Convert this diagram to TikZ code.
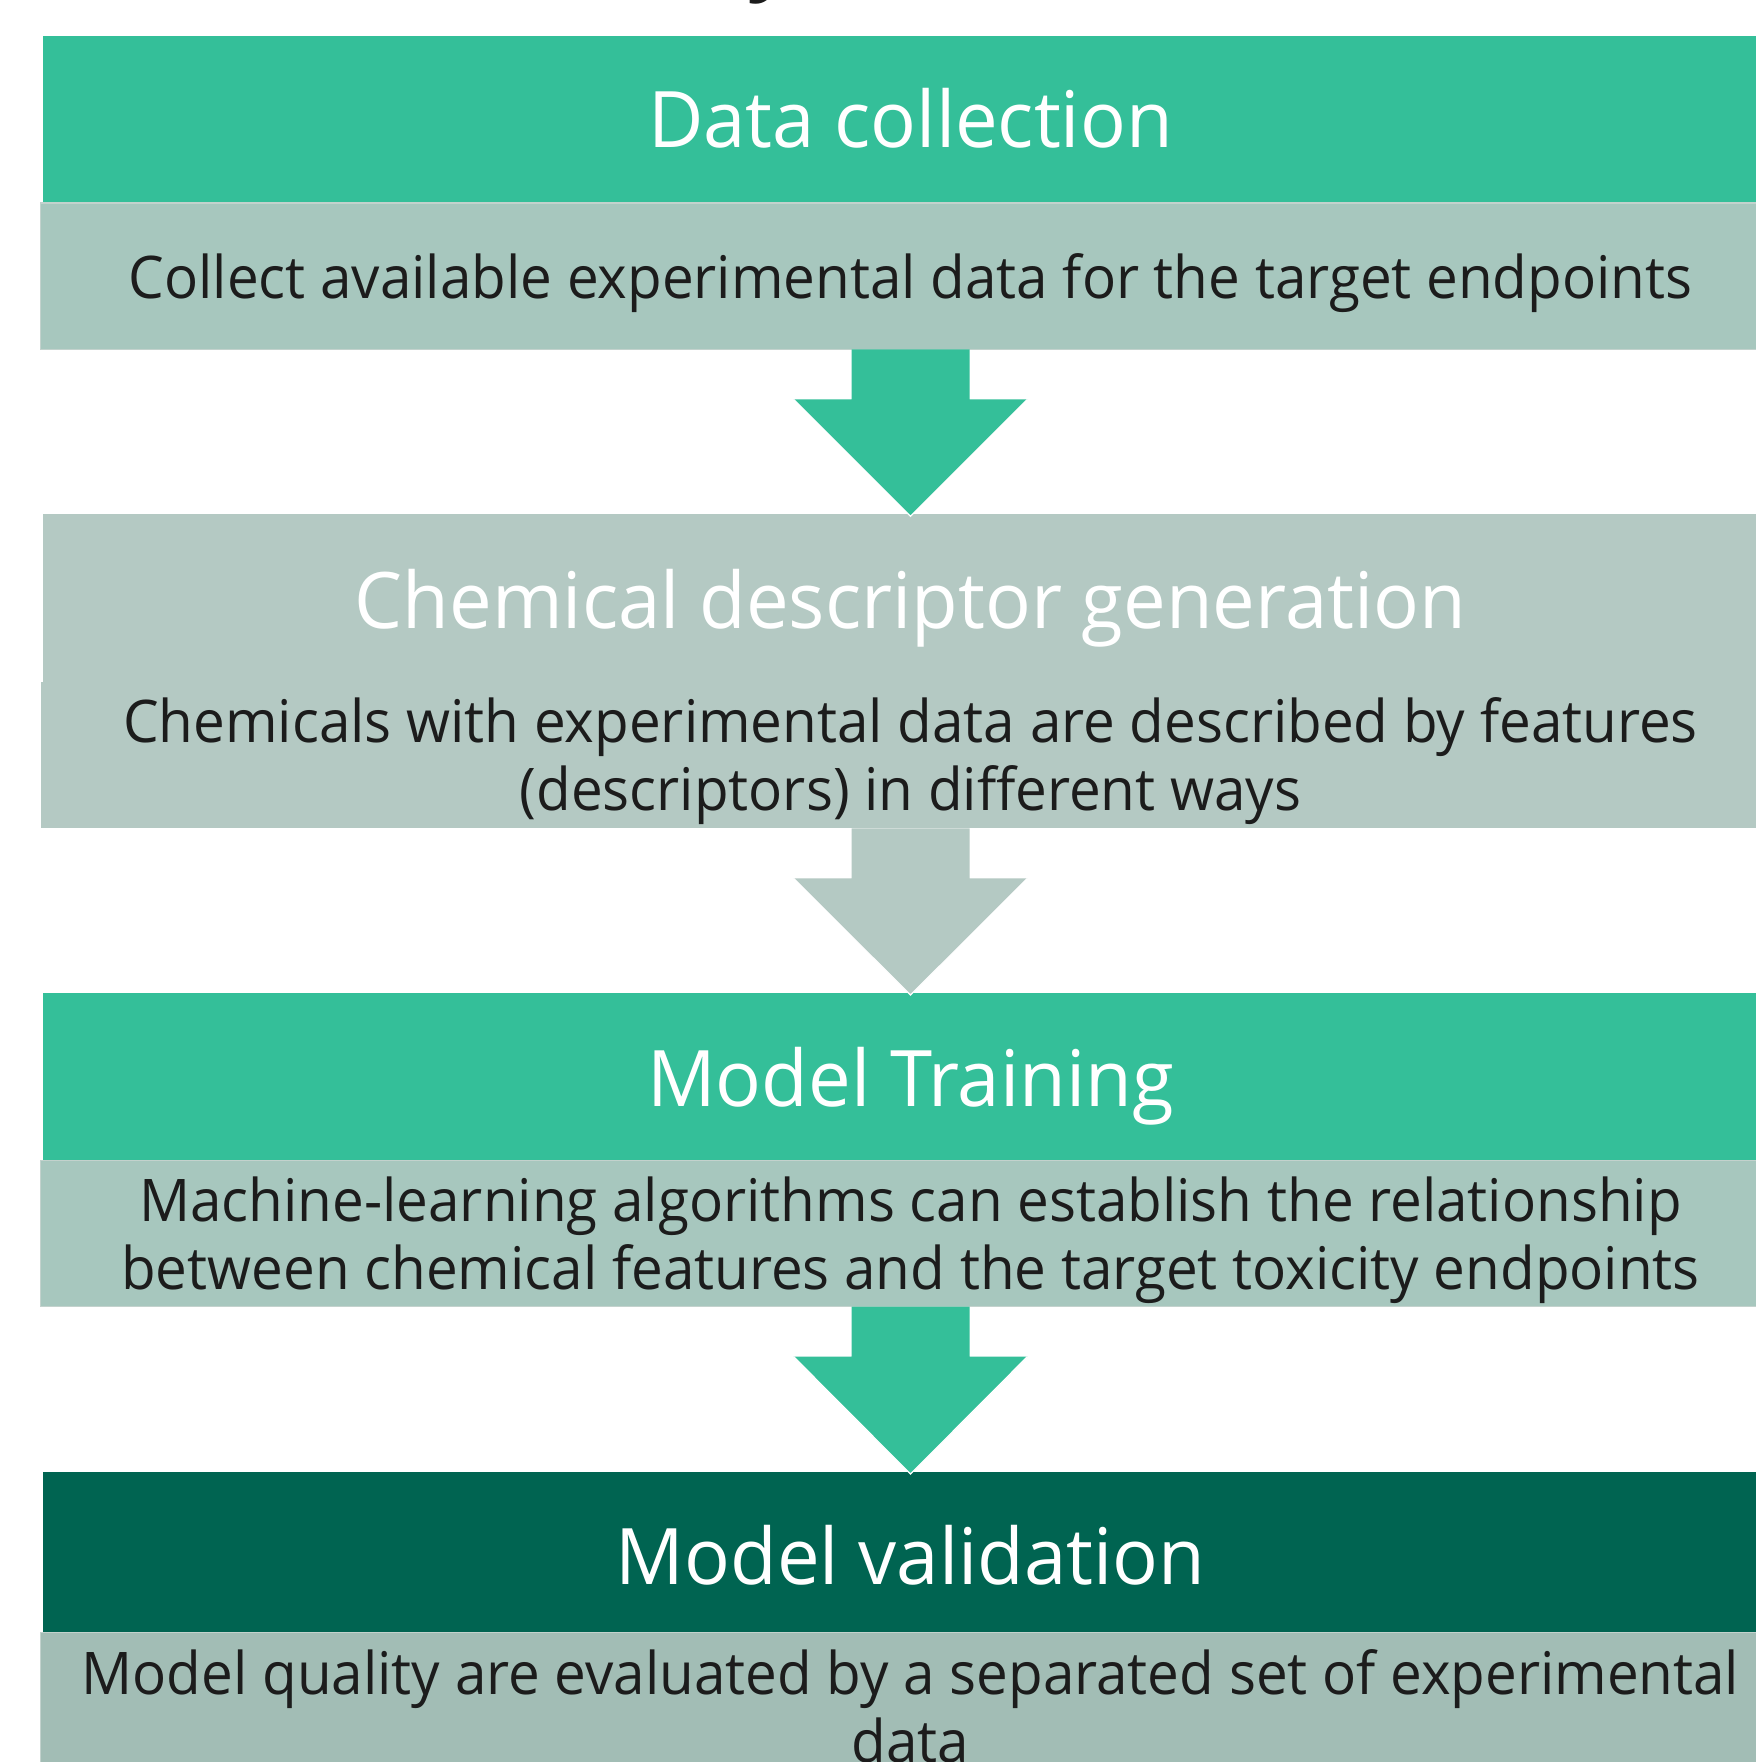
\documentclass[tikz,border=0pt]{standalone}
\usepackage{fontspec}
\setmainfont{Open Sans}
\newfontfamily\titlefont[FakeStretch=0.975]{Open Sans}
\newfontfamily\bodyfont[FakeStretch=0.962]{Open Sans}
\usetikzlibrary{calc}

\definecolor{stepgreen}{HTML}{34BF99}
\definecolor{stepdark}{HTML}{006451}
\definecolor{bodygray}{HTML}{A7C7BE}
\definecolor{descgray}{HTML}{B4C9C3}
\definecolor{lastgray}{HTML}{A2BDB5}
\definecolor{edgegray}{HTML}{C3D2CD}
\definecolor{inkdark}{HTML}{1C1C1C}

% block arrow from the bottom of one box to the top of the next
\newcommand\flowarrow[3]{%
  \fill[#3] ($(#1.south)+(-59,0)$) -- ($(#1.south)+(59,0)$)
    -- ($(#1.south)+(59,50)$) -- ($(#1.south)+(117,50)$)
    -- ($(#2.north)+(0,2)$)
    -- ($(#1.south)+(-117,50)$) -- ($(#1.south)+(-59,50)$) -- cycle;
  \draw[white, line width=0.6pt]
    ($(#1.south)+(117,50)$) -- ($(#2.north)+(0,2)$) -- ($(#1.south)+(-117,50)$);
}

\begin{document}
\begin{tikzpicture}[x=0.5pt, y=-0.5pt,
  panel/.style={rectangle, inner sep=0pt, outer sep=0pt},
  header/.style={panel, minimum width=867.5pt},
  bodybox/.style={panel, minimum width=870pt, draw=edgegray, line width=0.6pt},
  title/.style={anchor=base, inner sep=0pt, text=white,
    font=\titlefont\fontsize{39}{46}\selectfont},
  body/.style={anchor=base, inner sep=0pt, text=inkdark, align=center,
    font=\bodyfont\fontsize{29.4}{34}\selectfont},
]
\fill[white] (0,0) rectangle (1756,1762);
\useasboundingbox (0,0) rectangle (1756,1762);

% tail of the heading above the chart
\node[anchor=base, inner sep=0pt, text=inkdark, font=\bfseries\fontsize{39}{46}\selectfont] (head) at (770,-15) {y};

% step 1
\node[header, fill=stepgreen, minimum height=83.5pt] (h1) at (910.5,119.5) {};
\node[bodybox, fill=bodygray, minimum height=73.15pt] (d1) at (910.5,276.15) {};
\node[title] (t1) at (910.5,147.7) {Data collection};
\node[body] (b1) at (910.5,298.3) {Collect available experimental data for the target endpoints};

% step 2 (multi-line texts are placed by the baseline of their last line)
\node[header, fill=descgray, minimum height=83.7pt] (h2) at (910.5,598) {};
\node[panel, fill=descgray, minimum width=870pt, minimum height=73.3pt] (d2) at (910.5,755) {};
\node[title] (t2) at (910.5,628.3) {Chemical descriptor generation};
\node[body] (b2) at (910.5,810.5) {Chemicals with experimental data are described by features\\(descriptors) in different ways};

% step 3
\node[header, fill=stepgreen, minimum height=83.75pt] (h3) at (910.5,1076.75) {};
\node[bodybox, fill=bodygray, minimum height=73pt] (d3) at (910.5,1233.5) {};
\node[title] (t3) at (910.5,1106.7) {Model Training};
\node[body] (b3) at (910.5,1289.7) {Machine-learning algorithms can establish the relationship\\between chemical features and the target toxicity endpoints};

% step 4
\node[header, fill=stepdark, minimum height=80.35pt] (h4) at (910.5,1552.35) {};
\node[bodybox, fill=lastgray, minimum height=83.65pt] (d4) at (910.5,1716.35) {};
\node[title] (t4) at (910.5,1584.5) {Model validation};
\node[body] (b4) at (910.5,1762) {Model quality are evaluated by a separated set of experimental\\data};

% arrows between the steps
\flowarrow{d1}{h2}{stepgreen}
\flowarrow{d2}{h3}{descgray}
\flowarrow{d3}{h4}{stepgreen}
\end{tikzpicture}
\end{document}
